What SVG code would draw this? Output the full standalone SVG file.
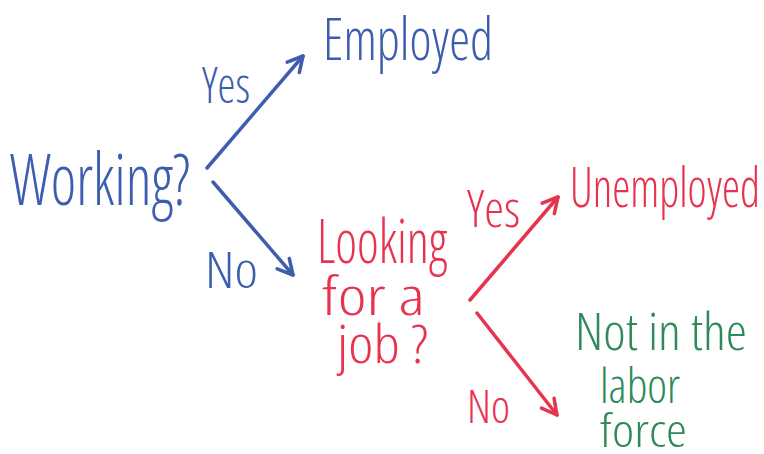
<svg xmlns="http://www.w3.org/2000/svg" width="764" height="454" viewBox="0 0 764 454">
  <style>
    text { font-family: "Open Sans", "Liberation Sans", sans-serif; font-weight: 350; font-stretch: 75%; }
    .blue { fill: #3d5eae; }
    .red { fill: #e8334f; }
    .green { fill: #2e8a5a; }
    .edge { fill: none; stroke-width: 3.5; stroke-linecap: round; stroke-linejoin: round; }
    .edge-blue { stroke: #3d5eae; }
    .edge-red { stroke: #e8334f; }
  </style>
  <defs>
    <!-- open chevron heads, one per ink colour -->
    <marker id="head-blue" markerUnits="userSpaceOnUse" viewBox="-20 -12 24 24" refX="0" refY="0" markerWidth="24" markerHeight="24" orient="auto">
      <path d="M-15,-8 L0,0 L-15,8" fill="none" stroke="#3d5eae" stroke-width="3.5" stroke-linecap="round" stroke-linejoin="round"/>
    </marker>
    <marker id="head-red" markerUnits="userSpaceOnUse" viewBox="-20 -12 24 24" refX="0" refY="0" markerWidth="24" markerHeight="24" orient="auto">
      <path d="M-15,-8 L0,0 L-15,8" fill="none" stroke="#e8334f" stroke-width="3.5" stroke-linecap="round" stroke-linejoin="round"/>
    </marker>
  </defs>
  <rect width="764" height="454" fill="#ffffff"/>

  <g id="connectors">
    <path class="edge edge-blue" d="M207,168 L303,56" marker-end="url(#head-blue)"/>
    <path class="edge edge-blue" d="M213,182 L293,275" marker-end="url(#head-blue)"/>
    <path class="edge edge-red" d="M470,300 L558,197" marker-end="url(#head-red)"/>
    <path class="edge edge-red" d="M477,313 L557,415" marker-end="url(#head-red)"/>
  </g>

  <g id="edge-labels">
    <text class="blue" x="202" y="103" font-size="50" textLength="48" lengthAdjust="spacingAndGlyphs">Yes</text>
    <text class="blue" x="205" y="288" font-size="50" textLength="53" lengthAdjust="spacingAndGlyphs">No</text>
    <text class="red" x="467" y="227" font-size="52" textLength="53" lengthAdjust="spacingAndGlyphs">Yes</text>
    <text class="red" x="467" y="423" font-size="46" textLength="43" lengthAdjust="spacingAndGlyphs">No</text>
  </g>

  <g id="working">
    <text class="blue" x="10" y="205" font-size="72" textLength="180" lengthAdjust="spacingAndGlyphs">Working?</text>
  </g>

  <g id="employed">
    <text class="blue" x="323" y="60" font-size="58" textLength="170" lengthAdjust="spacingAndGlyphs">Employed</text>
  </g>

  <g id="looking">
    <text class="red" x="317" y="263" font-size="60" textLength="130" lengthAdjust="spacingAndGlyphs">Looking</text>
    <text class="red" x="322" y="315" font-size="54" textLength="103" lengthAdjust="spacingAndGlyphs">for  a</text>
    <text class="red" x="337" y="363" font-size="54" textLength="91" lengthAdjust="spacingAndGlyphs">job ?</text>
  </g>

  <g id="unemployed">
    <text class="red" x="570" y="207" font-size="56" textLength="190" lengthAdjust="spacingAndGlyphs">Unemployed</text>
  </g>

  <g id="not-in-labor-force">
    <text class="green" x="575" y="350" font-size="52" textLength="172" lengthAdjust="spacingAndGlyphs">Not in the</text>
    <text class="green" x="600" y="403" font-size="48" textLength="80" lengthAdjust="spacingAndGlyphs">labor</text>
    <text class="green" x="600" y="447" font-size="46" textLength="87" lengthAdjust="spacingAndGlyphs">force</text>
  </g>
</svg>
